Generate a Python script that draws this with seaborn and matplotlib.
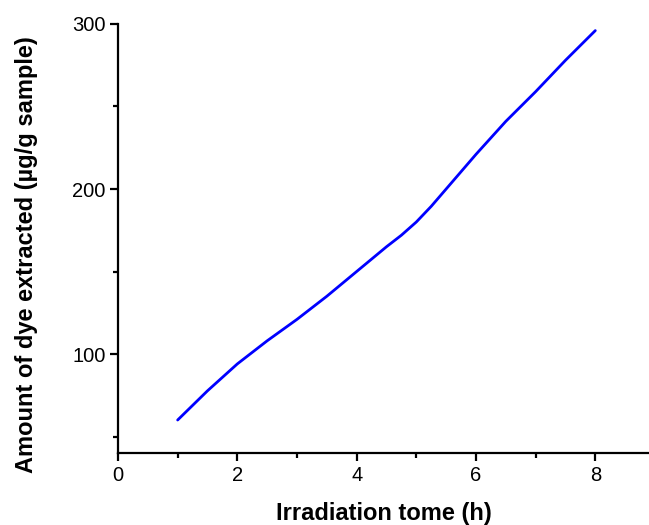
import matplotlib
matplotlib.use("Agg")
import matplotlib.pyplot as plt
from matplotlib.ticker import MultipleLocator
import seaborn as sns
import pandas as pd

# Irradiation time (h) and amount of dye extracted (µg/g sample)
hours = [1.0, 1.5, 2.0, 2.5, 3.0, 3.5, 4.0, 4.25, 4.5, 4.75, 5.0, 5.25, 5.5,
         5.75, 6.0, 6.5, 7.0, 7.5, 8.0]
dye_amount = [60, 77.7, 94, 108, 121, 135, 150, 157.5, 165, 172, 180, 189.5,
              200, 210.5, 221, 241, 259, 278, 296]

x_ticks = [0, 2, 4, 6, 8]
y_ticks = [100, 200, 300]

sns.set_theme(style="ticks")
plt.rcParams["font.family"] = ["Liberation Sans", "DejaVu Sans"]
plt.rcParams["text.color"] = "black"
plt.rcParams["axes.labelcolor"] = "black"

df = pd.DataFrame({"hours": hours, "amount": dye_amount})

fig = plt.figure(figsize=(6.49, 5.25), dpi=100)
ax = fig.add_axes([0.1818, 0.1371, 0.8182, 0.8172])

sns.lineplot(data=df, x="hours", y="amount", ax=ax, color="#0000FF", linewidth=2.0)

ax.set_xlim(0, 8.9)
ax.set_ylim(40, 300)
ax.set_xticks(x_ticks)
ax.set_yticks(y_ticks)
ax.xaxis.set_minor_locator(MultipleLocator(1))
ax.yaxis.set_minor_locator(MultipleLocator(50))

for side in ("top", "right"):
    ax.spines[side].set_visible(False)
for side in ("left", "bottom"):
    ax.spines[side].set_linewidth(1.6)
    ax.spines[side].set_color("black")

ax.tick_params(axis="both", which="major", direction="out", length=6, width=1.6,
               labelsize=14.5, colors="black", labelcolor="black", pad=3)
ax.tick_params(axis="both", which="minor", direction="out", length=3.5, width=1.6,
               colors="black")

ax.set_xlabel("Irradiation tome (h)", fontsize=17, fontweight="bold")
ax.set_ylabel("Amount of dye extracted (\u00b5g/g sample)", fontsize=17,
              fontweight="bold")
ax.xaxis.set_label_coords(0.5, -0.113)
ax.yaxis.set_label_coords(-0.151, 0.4615)

fig.savefig("out.png", dpi=100)
